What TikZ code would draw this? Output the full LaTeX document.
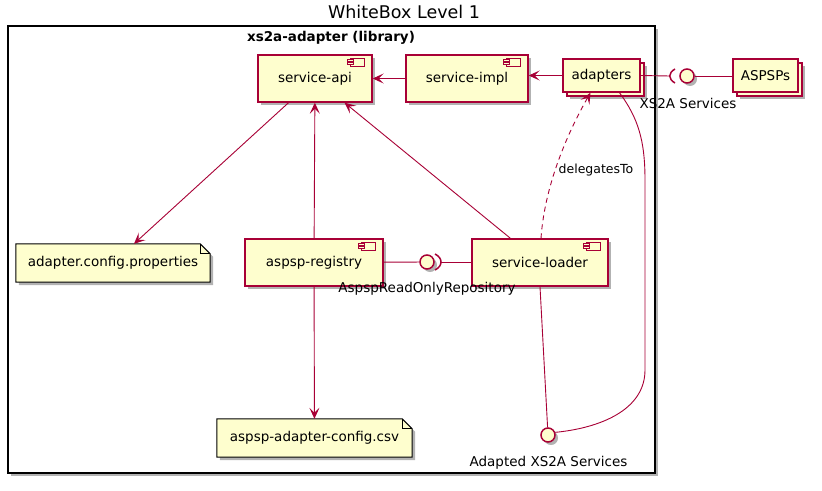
\documentclass[tikz,border=0pt]{standalone}
\usepackage{fontspec}
\setmainfont{DejaVu Sans}
\usetikzlibrary{arrows.meta,shadows,calc}
\definecolor{pfill}{HTML}{FEFECE}
\definecolor{pline}{HTML}{A80036}
\newcommand{\compicon}[1]{%
  \draw[pline,line width=0.9pt,fill=pfill] ($(#1.north east)+(-22,4)$) rectangle ($(#1.north east)+(-8,12)$);
  \draw[pline,line width=0.9pt,fill=pfill] ($(#1.north east)+(-25,5.5)$) rectangle ($(#1.north east)+(-19,7.5)$);
  \draw[pline,line width=0.9pt,fill=pfill] ($(#1.north east)+(-25,8.5)$) rectangle ($(#1.north east)+(-19,10.5)$);
}
\newcommand{\notebox}[1]{%
  \draw[notestyle] (#1.north west) -- ($(#1.north east)+(-10,0)$) -- ($(#1.north east)+(0,10)$) -- (#1.south east) -- (#1.south west) -- cycle;
  \draw[line width=1pt] ($(#1.north east)+(-10,0)$) -- ($(#1.north east)+(-10,10)$) -- ($(#1.north east)+(0,10)$);
}
\begin{document}
\begin{tikzpicture}[x=1pt,y=-1pt,
  shade1/.style={drop shadow={shadow xshift=3pt,shadow yshift=-3pt,fill=black,opacity=0.3}},
  comp/.style={draw=pline,fill=pfill,line width=1.4pt,minimum height=47pt,inner sep=0pt,
     font=\fontsize{13.5}{16}\selectfont,shade1},
  stack/.style={draw=pline,fill=pfill,line width=1.4pt,minimum height=33pt,inner sep=0pt,
     font=\fontsize{13.5}{16}\selectfont,
     drop shadow={shadow xshift=7pt,shadow yshift=-7pt,fill=black,opacity=0.3},
     general shadow={shadow xshift=4pt,shadow yshift=-4pt,fill=pfill,draw=pline,line width=1.4pt,opacity=1}},
  notetxt/.style={minimum height=38pt,inner sep=0pt,font=\fontsize{13.5}{16}\selectfont},
  notestyle/.style={draw=black,fill=pfill,line width=1pt,shade1},
  iface/.style={circle,draw=pline,fill=pfill,line width=1.5pt,minimum size=14pt,inner sep=0pt,shade1},
  lbl/.style={font=\fontsize{13.5}{16}\selectfont,inner sep=0pt},
  conn/.style={draw=pline,line width=0.9pt},
  arrowed/.style={-{Stealth[length=11pt,width=10pt,inset=5pt]}}
]
\useasboundingbox (0,0) rectangle (822,490);
% title
\node[font=\fontsize{17.5}{20}\selectfont,inner sep=0pt] (title) at (404,12) {WhiteBox Level 1};
% package
\node[draw=black,line width=1.6pt,minimum width=647pt,minimum height=447pt,inner sep=0pt,
  drop shadow={shadow xshift=3pt,shadow yshift=-3pt,fill=black,opacity=0.3},fill=white] (pkg) at (331.5,249.5) {};
\node[font=\bfseries\fontsize{13.5}{16}\selectfont,inner sep=0pt] (pkglbl) at (331,38) {xs2a-adapter (library)};

% components
\node[comp,minimum width=114pt] (api) at (315,78.5) {\raisebox{-4pt}{service-api}};
\compicon{api}
\node[comp,minimum width=122pt] (impl) at (467,78.5) {\raisebox{-4pt}{service-impl}};
\compicon{impl}
\node[comp,minimum width=138pt] (registry) at (314,262.5) {\raisebox{-4pt}{aspsp-registry}};
\compicon{registry}
\node[comp,minimum width=136pt] (loader) at (540,262.5) {\raisebox{-4pt}{service-loader}};
\compicon{loader}

% stacked
\node[stack,minimum width=77pt] (adapters) at (601.5,75.5) {adapters};
\node[stack,minimum width=65pt] (aspsps) at (765.5,75.5) {ASPSPs};

% notes
\node[notetxt,minimum width=194pt] (note1) at (113,263) {};
\notebox{note1}
\node[notetxt] at (note1) {adapter.config.properties};
\node[notetxt,minimum width=195pt] (note2) at (314.5,438) {};
\notebox{note2}
\node[notetxt] at (note2) {aspsp-adapter-config.csv};

% interfaces
\node[iface] (xs2a) at (687,76) {};
\node[lbl] (xs2albl) at (688,103) {XS2A Services};
\coordinate (xsock) at (669.8,76);
\draw[pline,line width=1.5pt] ($(xs2a.center)+(-12,-7)$) .. controls +(-7,4) and +(-7,-4) .. ($(xs2a.center)+(-12,7)$);

\node[iface] (arr) at (427,262) {};
\node[lbl] (arrlbl) at (427,289) {AspspReadOnlyRepository};
\coordinate (arrsock) at (441,262);
\draw[pline,line width=1.5pt] ($(arr.center)+(8,-8)$) .. controls +(8,4) and +(8,-4) .. ($(arr.center)+(8,8)$);

\node[iface] (adapted) at (548,435) {};
\node[lbl] (adaptedlbl) at (548.5,463) {Adapted XS2A Services};

% connectors
\draw[conn,arrowed] (impl) -- (api);
\draw[conn,arrowed] (adapters.west) -- (impl.east |- adapters.west);
\draw[conn] (adapters.east) -- (xsock);
\draw[conn] (xs2a) -- (aspsps.west |- xs2a);
\draw[conn,arrowed] (api) -- (note1);
\draw[conn,arrowed] (registry) -- (api);
\draw[conn,arrowed] (loader) -- (api);
\draw[conn,arrowed] (registry) -- (note2);
\draw[conn] (registry) -- (arr);
\draw[conn] (arrsock) -- (loader.west |- arrsock);
\draw[conn,dash pattern=on 5pt off 4pt,arrowed] ($(loader.north)+(1,0)$) .. controls (545,180) and (572,125) .. ($(adapters.south)+(-11,0)$);
\node[font=\fontsize{12.5}{15}\selectfont,inner sep=0pt] (deleg) at (596,170) {delegatesTo};
\draw[conn] (loader.south) -- (adapted);
\draw[conn] ($(adapters.south)+(18,0)$) .. controls (638,118) and (645,140) .. (645,180) -- (645,370) .. controls (645,410) and (600,428) .. (adapted.20);
\end{tikzpicture}
\end{document}
